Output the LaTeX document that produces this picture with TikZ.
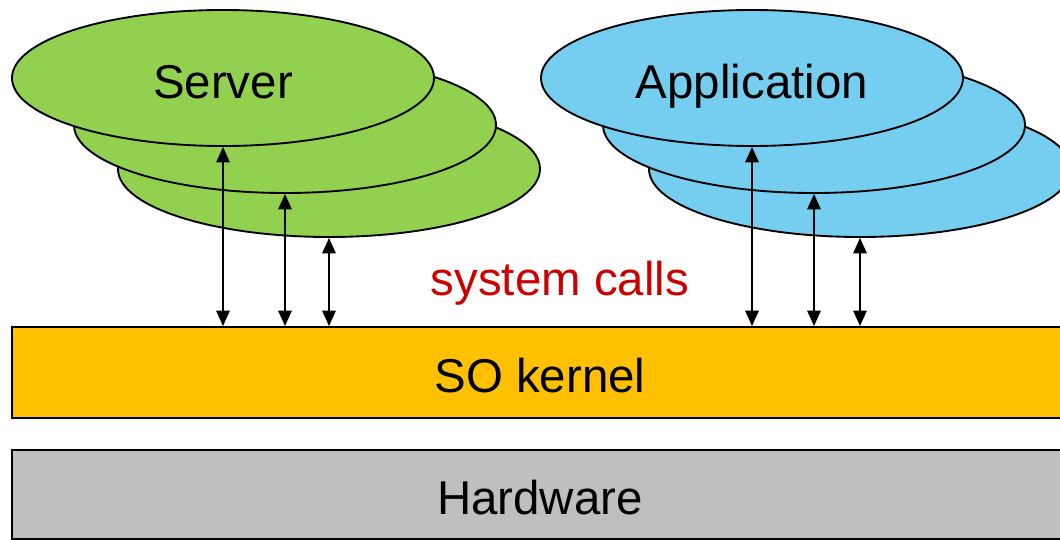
\documentclass[tikz,border=0pt]{standalone}
\usepackage{fontspec}
\setmainfont{Liberation Sans}
\usepackage{xcolor}
\usepackage{tikz}
\usetikzlibrary{positioning,arrows.meta,shapes.geometric}

\definecolor{srvgreen}{RGB}{146,208,80}
\definecolor{appblue}{RGB}{117,206,240}
\definecolor{kernelorange}{RGB}{255,192,0}
\definecolor{hwgray}{RGB}{191,191,191}
\definecolor{callred}{RGB}{204,0,0}

\begin{document}
\begin{tikzpicture}[x=0.03cm, y=-0.03cm,
    every node/.append style={font=\fontsize{40.5}{48}\selectfont, text height=34.8pt, text depth=0pt},
    proc/.style={draw, ellipse, line width=1.6pt, inner sep=0pt, minimum width=12.66cm, minimum height=4.08cm},
    layer/.style={draw, line width=1.6pt, inner sep=0pt, minimum width=31.68cm},
    syscall/.style={{Triangle[length=0.46cm,width=0.4cm]}-{Triangle[length=0.46cm,width=0.4cm]}, line width=1.5pt}]
\useasboundingbox (0,0) rectangle (1060,540);

\node[proc, fill=srvgreen] (server3) at (329,169) {};
\node[proc, fill=srvgreen] (server2) at (285,125) {};
\node[proc, fill=srvgreen] (server1) at (223,78) {Server};

\node[proc, fill=appblue] (app3) at (860,169) {};
\node[proc, fill=appblue] (app2) at (814,125) {};
\node[proc, fill=appblue] (app1) at (752,78) {Application};

\node[layer, fill=kernelorange, minimum height=2.73cm] (kernel) at (540,372.5) {SO kernel};
\node[layer, fill=hwgray, minimum height=2.67cm] (hardware) at (540,494.5) {Hardware};

\foreach \p in {server1,server2,server3,app1,app2,app3}
    \draw[syscall] (\p.south) -- (\p.south |- kernel.north);

\node[text=callred] (calls) at (560,275) {system calls};

\end{tikzpicture}
\end{document}
